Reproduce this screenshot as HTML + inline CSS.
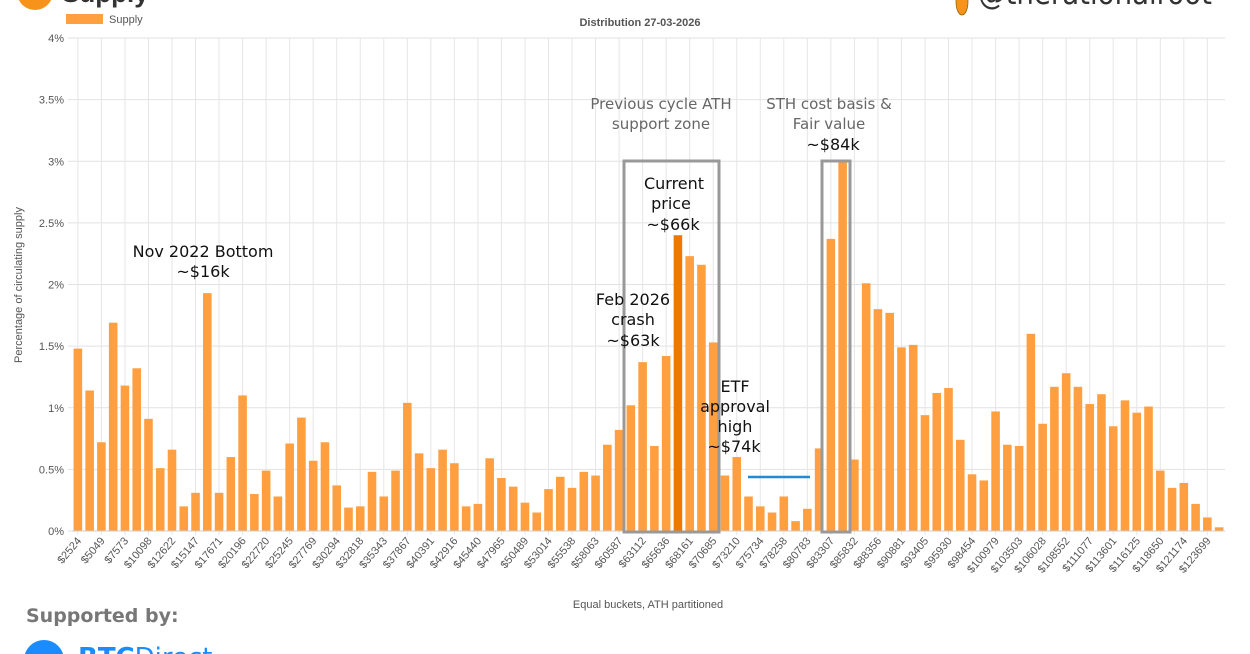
<!DOCTYPE html>
<html><head><meta charset="utf-8"><style>
html,body{margin:0;padding:0;background:#fff;width:1250px;height:654px;overflow:hidden}
svg{display:block;font-family:"Liberation Sans",sans-serif}
.ann{font-family:"DejaVu Sans","Liberation Sans",sans-serif}
</style></head><body>
<svg id="chart" width="1250" height="654" viewBox="0 0 1250 654">
<circle cx="35" cy="-8" r="18" fill="#f7931a"/>
<text x="62" y="2" font-size="26" font-weight="bold" fill="#333">Supply</text>
<rect x="66" y="14" width="37" height="10" fill="#ff9f40"/>
<text x="109" y="23" font-size="11" fill="#555">Supply</text>
<text x="640" y="26" font-size="11" font-weight="bold" fill="#555" text-anchor="middle">Distribution 27-03-2026</text>
<ellipse cx="962" cy="2" rx="6" ry="13" fill="#f7931a" stroke="#8a5a00" stroke-width="0.7"/>
<text x="978" y="4" font-size="32" fill="#333" class="ann" textLength="234" lengthAdjust="spacingAndGlyphs">@therationalroot</text>
<g id="grid"></g>
<g id="bars"></g>
<g id="axes"></g>
<text transform="translate(22,285) rotate(-90)" font-size="11" fill="#555" text-anchor="middle">Percentage of circulating supply</text>
<text x="648" y="608" font-size="11" fill="#555" text-anchor="middle">Equal buckets, ATH partitioned</text>
<rect x="624" y="161" width="95" height="371" fill="none" stroke="#999" stroke-width="3"/>
<rect x="822" y="161" width="28" height="371" fill="none" stroke="#999" stroke-width="3"/>
<line x1="748" y1="477" x2="810" y2="477" stroke="#1f8ad6" stroke-width="2.5"/>
<g class="ann" font-size="16" text-anchor="middle">
<text x="203" y="257" fill="#111">Nov 2022 Bottom<tspan x="203" dy="20">~$16k</tspan></text>
<text x="661" y="109" fill="#666" font-size="15">Previous cycle ATH<tspan x="661" dy="20">support zone</tspan></text>
<text x="829" y="109" fill="#666" font-size="15">STH cost basis &amp;<tspan x="829" dy="20">Fair value</tspan><tspan x="833" dy="21" fill="#111" font-size="16">~$84k</tspan></text>
<text x="674" y="189" fill="#111">Current<tspan x="671" dy="20">price</tspan><tspan x="673" dy="21">~$66k</tspan></text>
<text x="633" y="305" fill="#111">Feb 2026<tspan x="633" dy="20">crash</tspan><tspan x="633" dy="21">~$63k</tspan></text>
<text x="735" y="392" fill="#111">ETF<tspan x="735" dy="20">approval</tspan><tspan x="735" dy="20">high</tspan><tspan x="734" dy="20">~$74k</tspan></text>
</g>
<text x="26" y="622" font-size="19" font-weight="bold" fill="#777" class="ann">Supported by:</text>
<circle cx="44" cy="660" r="20" fill="#1a8cff"/>
<text x="78" y="666" font-size="26" fill="#1a8cff" class="ann"><tspan font-weight="bold">BTC</tspan>Direct</text>
</svg>
<script>
const categories = [2524,3786,5049,6311,7573,8835,10098,11360,12622,13884,15147,16409,17671,18933,20196,21458,22720,23983,25245,26507,27769,29031,30294,31556,32818,34080,35343,36605,37867,39129,40391,41653,42916,44178,45440,46702,47965,49227,50489,51751,53014,54276,55538,56800,58063,59325,60587,61849,63112,64374,65636,66898,68161,69423,70685,71947,73210,74472,75734,76996,78258,79520,80783,82045,83307,84569,85832,87094,88356,89618,90881,92143,93405,94667,95930,97192,98454,99716,100979,102241,103503,104765,106028,107290,108552,109814,111077,112339,113601,114863,116125,117387,118650,119912,121174,122436,123699,124961];
const supplyValues = [1.48,1.14,0.72,1.69,1.18,1.32,0.91,0.51,0.66,0.20,0.31,1.93,0.31,0.60,1.10,0.30,0.49,0.28,0.71,0.92,0.57,0.72,0.37,0.19,0.20,0.48,0.28,0.49,1.04,0.63,0.51,0.66,0.55,0.20,0.22,0.59,0.43,0.36,0.23,0.15,0.34,0.44,0.35,0.48,0.45,0.70,0.82,1.02,1.37,0.69,1.42,2.40,2.23,2.16,1.53,0.45,0.60,0.28,0.20,0.15,0.28,0.08,0.18,0.67,2.37,2.99,0.58,2.01,1.80,1.77,1.49,1.51,0.94,1.12,1.16,0.74,0.46,0.41,0.97,0.70,0.69,1.60,0.87,1.17,1.28,1.17,1.03,1.11,0.85,1.06,0.96,1.01,0.49,0.35,0.39,0.22,0.11,0.03];
const yTicks = [0,0.5,1,1.5,2,2.5,3,3.5,4];
const highlightIndex = 51;
const NS="http://www.w3.org/2000/svg";
const X0=72,X1=1225,Y0=531,YT=38,YMAX=4;
const band=(X1-X0)/categories.length;
function xs(i){return X0+band*i;}
function ys(v){return Y0-(v/YMAX)*(Y0-YT);}
function mk(tag,attrs,parent){const e=document.createElementNS(NS,tag);for(const k in attrs)e.setAttribute(k,attrs[k]);parent.appendChild(e);return e;}
const grid=document.getElementById('grid'),bars=document.getElementById('bars'),axes=document.getElementById('axes');
yTicks.forEach(t=>{
  const l=mk('line',{x1:X0-4,x2:X1,y1:ys(t),y2:ys(t),stroke:'#e2e2e2','stroke-width':1},grid);
  
  
  const tx=mk('text',{x:X0-8,y:ys(t)+4,'font-size':11,fill:'#555','text-anchor':'end'},axes);
  tx.textContent=t+'%';
  
  
});
categories.forEach((c,i)=>{
  if(i%2===0){
    const cx=xs(i)+band/2;
    const l=mk('line',{x1:cx,x2:cx,y1:YT,y2:Y0+4,stroke:'#e6e6e6','stroke-width':1},grid);
    
    
    const tx=mk('text',{transform:`translate(${cx+4},${Y0+10}) rotate(-50)`,'font-size':11,fill:'#555','text-anchor':'end'},axes);
    tx.textContent='$'+c;
    
    
  }
  const v=supplyValues[i];
  const r=mk('rect',{x:xs(i)+1.6,y:ys(v),width:band-3.2,height:Y0-ys(v),fill:i===highlightIndex?'#f07800':'#ff9f40'},bars);
  
  
});
const ax=mk('line',{x1:X0,x2:X1,y1:Y0,y2:Y0,stroke:'#ccc','stroke-width':1},axes);


</script>
</body></html>
